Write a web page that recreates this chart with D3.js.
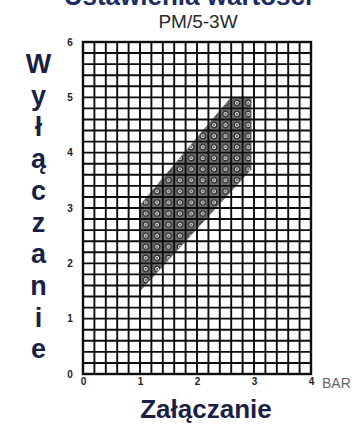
<!DOCTYPE html>
<html>
<head>
<meta charset="utf-8">
<script src="https://cdn.jsdelivr.net/npm/d3@7/dist/d3.min.js"></script>
<style>
  html, body { margin: 0; padding: 0; background: #fff; }
  svg { display: block; }
</style>
</head>
<body>
<div id="chart"></div>
<script>
// chart values
var titleText = "Ustawienia wartości";
var subtitleText = "PM/5-3W";
var xTicks = [0, 1, 2, 3, 4];
var yTicks = [0, 1, 2, 3, 4, 5, 6];
var xUnit = "BAR";
var xTitle = "Załączanie";
var yTitle = "Wyłączanie";
// hatched working area (Załączanie, Wyłączanie)
var areaX = [1.0, 1.0, 2.6, 2.95, 2.95];
var areaY = [1.5, 3.05, 5.0, 5.0, 3.7];

(function() {
	var width = 354,
		height = 424,
		ink = "#1b1f45",
		gridStep = 0.2;

	var svg = d3.select("#chart").append("svg")
		.attr("width", width)
		.attr("height", height);

	var x = d3.scaleLinear().domain([0, 4]).range([83, 311]),
		y = d3.scaleLinear().domain([0, 6]).range([374, 42]);

	var cellW = x(gridStep) - x(0),
		cellH = y(0) - y(gridStep);

	// dotted ring pattern used for the working area
	var pat = svg.append("defs").append("pattern")
		.attr("id", "rings")
		.attr("patternUnits", "userSpaceOnUse")
		.attr("x", x(0))
		.attr("y", y(6))
		.attr("width", cellW)
		.attr("height", cellH);
	pat.append("rect")
		.attr("width", cellW)
		.attr("height", cellH)
		.attr("fill", "#6e6e6e");
	pat.append("circle")
		.attr("cx", cellW / 2)
		.attr("cy", cellH / 2)
		.attr("r", 2.7)
		.attr("fill", "#e8e8e8")
		.attr("stroke", "#222")
		.attr("stroke-width", 1.2);
	pat.append("path")
		.attr("d", "M" + (cellW / 2 - 1.4) + "," + (cellH / 2 - 1.4) + "L" + (cellW / 2 + 1.4) + "," + (cellH / 2 + 1.4) +
			"M" + (cellW / 2 + 1.4) + "," + (cellH / 2 - 1.4) + "L" + (cellW / 2 - 1.4) + "," + (cellH / 2 + 1.4))
		.attr("stroke", "#444")
		.attr("stroke-width", 0.8);

	// title (partly above the page edge, as in the scan)
	svg.append("text")
		.attr("x", 188)
		.attr("y", 5)
		.attr("text-anchor", "middle")
		.style("font", "bold 26px 'Liberation Sans', Arial, sans-serif")
		.style("fill", "#1d2d66")
		.text(titleText);

	svg.append("text")
		.attr("x", 198)
		.attr("y", 28)
		.attr("text-anchor", "middle")
		.style("font", "19px 'Liberation Sans', Arial, sans-serif")
		.style("fill", "#2a2a2a")
		.text(subtitleText);

	// hatched area
	var pts = areaX.map(function(v, i) { return [x(v), y(areaY[i])]; });
	svg.append("path")
		.attr("d", d3.line()(pts) + "Z")
		.attr("fill", "url(#rings)")
		.attr("stroke", "#777")
		.attr("stroke-width", 0.8);

	// grid
	var xs = d3.range(0, 4 + 1e-9, gridStep),
		ys = d3.range(0, 6 + 1e-9, gridStep);
	var grid = svg.append("g").attr("class", "grid")
		.attr("stroke", "#0d0d0d")
		.attr("stroke-width", 1.9);
	grid.selectAll("line.v")
		.data(xs)
		.enter().append("line")
		.attr("class", "v")
		.attr("x1", function(d) { return x(d); })
		.attr("x2", function(d) { return x(d); })
		.attr("y1", y(0))
		.attr("y2", y(6));
	grid.selectAll("line.h")
		.data(ys)
		.enter().append("line")
		.attr("class", "h")
		.attr("x1", x(0))
		.attr("x2", x(4))
		.attr("y1", function(d) { return y(d); })
		.attr("y2", function(d) { return y(d); });
	svg.append("rect")
		.attr("x", x(0))
		.attr("y", y(6))
		.attr("width", x(4) - x(0))
		.attr("height", y(0) - y(6))
		.attr("fill", "none")
		.attr("stroke", "#0d0d0d")
		.attr("stroke-width", 2.4);

	// axes labels via d3 axes, lines hidden
	var xAxis = svg.append("g")
		.attr("transform", "translate(0," + (y(0) + 4) + ")")
		.call(d3.axisBottom(x).tickValues(xTicks).tickSize(0).tickPadding(0).tickFormat(d3.format("d")));
	xAxis.select(".domain").remove();
	xAxis.selectAll("text")
		.attr("dy", "0.71em")
		.style("font", "bold 10px 'Liberation Sans', Arial, sans-serif")
		.style("fill", "#222");

	var yAxis = svg.append("g")
		.attr("transform", "translate(" + (x(0) - 9) + ",0)")
		.call(d3.axisLeft(y).tickValues(yTicks).tickSize(0).tickPadding(0).tickFormat(d3.format("d")));
	yAxis.select(".domain").remove();
	yAxis.selectAll("text")
		.attr("text-anchor", "middle")
		.attr("x", -4)
		.style("font", "bold 10px 'Liberation Sans', Arial, sans-serif")
		.style("fill", "#222");

	svg.append("text")
		.attr("x", 322)
		.attr("y", 388)
		.style("font", "14px 'Liberation Sans', Arial, sans-serif")
		.style("fill", "#666")
		.text(xUnit);

	svg.append("text")
		.attr("x", 206)
		.attr("y", 418)
		.attr("text-anchor", "middle")
		.style("font", "bold 26px 'Liberation Sans', Arial, sans-serif")
		.style("fill", ink)
		.text(xTitle);

	// vertical stacked title
	svg.append("g").selectAll("text")
		.data(yTitle.split(""))
		.enter().append("text")
		.attr("x", 38.5)
		.attr("y", function(d, i) { return 73 + i * 31.7; })
		.attr("text-anchor", "middle")
		.style("font", "bold 27px 'Liberation Sans', Arial, sans-serif")
		.style("fill", ink)
		.text(function(d) { return d; });
})();
</script>
</body>
</html>
